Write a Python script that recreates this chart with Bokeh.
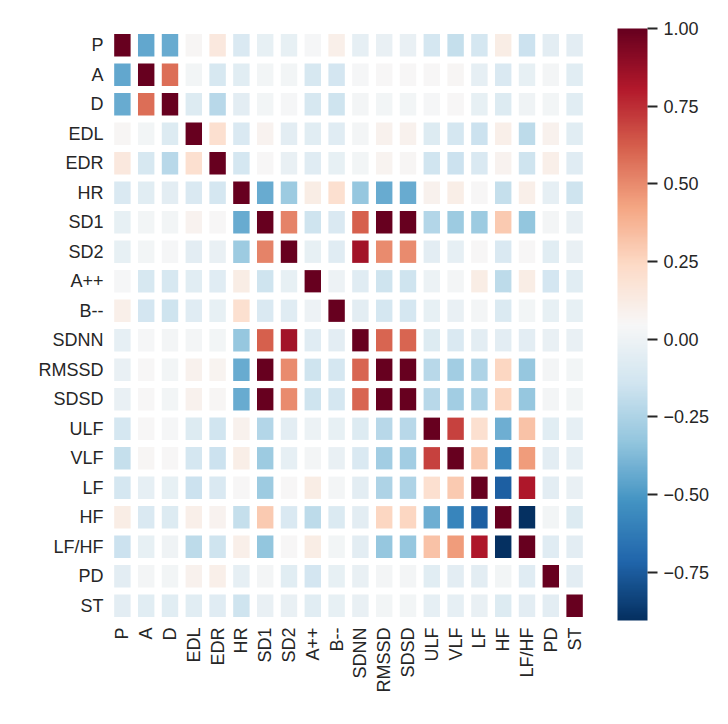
import numpy as np
from bokeh.plotting import figure
from bokeh.models import (ColumnDataSource, LinearColorMapper, ColorBar, FixedTicker,
                          CustomJSTickFormatter)
from bokeh.palettes import RdBu11
from bokeh.embed import file_html
from bokeh.resources import INLINE

# Variable names, in row/column order
variables = ["P", "A", "D", "EDL", "EDR", "HR", "SD1", "SD2", "A++", "B--",
             "SDNN", "RMSSD", "SDSD", "ULF", "VLF", "LF", "HF", "LF/HF", "PD", "ST"]

# Correlation matrix rows
row_P     = [1.00, -0.45, -0.43, 0.06, 0.15, -0.10, -0.03, -0.03, 0.04, 0.10, -0.04, -0.02, -0.02, -0.12, -0.18, -0.12, 0.12, -0.16, -0.05, -0.05]
row_A     = [-0.45, 1.00, 0.58, 0.02, -0.11, -0.06, 0.02, 0.02, -0.11, -0.13, 0.04, 0.05, 0.05, 0.05, 0.06, -0.04, -0.10, -0.03, 0.03, -0.06]
row_D     = [-0.43, 0.58, 1.00, -0.08, -0.22, -0.05, 0.02, 0.04, -0.11, -0.15, 0.03, 0.02, 0.02, 0.04, 0.05, -0.03, -0.08, 0.01, 0.02, -0.06]
row_EDL   = [0.06, 0.02, -0.08, 1.00, 0.20, -0.10, 0.08, -0.05, -0.06, -0.07, 0.03, 0.09, 0.09, -0.08, -0.12, -0.16, 0.10, -0.20, 0.09, -0.06]
row_EDR   = [0.15, -0.11, -0.22, 0.20, 1.00, -0.12, 0.05, -0.02, -0.07, -0.03, 0.02, 0.07, 0.06, -0.14, -0.16, -0.10, 0.08, -0.15, 0.10, -0.07]
row_HR    = [-0.10, -0.06, -0.05, -0.10, -0.12, 1.00, -0.43, -0.30, 0.12, 0.20, -0.32, -0.43, -0.43, 0.09, 0.11, 0.05, -0.18, 0.10, -0.04, -0.15]
row_SD1   = [-0.03, 0.02, 0.02, 0.08, 0.05, -0.43, 1.00, 0.52, -0.15, -0.10, 0.62, 1.00, 1.00, -0.23, -0.30, -0.30, 0.30, -0.33, 0.03, -0.02]
row_SD2   = [-0.03, 0.02, 0.04, -0.05, -0.02, -0.30, 0.52, 1.00, -0.03, -0.07, 0.85, 0.50, 0.50, -0.05, -0.04, 0.05, -0.10, 0.05, -0.06, -0.02]
row_App   = [0.04, -0.11, -0.11, -0.06, -0.07, 0.12, -0.15, -0.03, 1.00, 0.00, -0.07, -0.15, -0.15, -0.01, 0.03, 0.12, -0.20, 0.12, -0.13, -0.06]
row_Bmm   = [0.10, -0.13, -0.15, -0.07, -0.03, 0.20, -0.10, -0.07, 0.00, 1.00, -0.05, -0.12, -0.12, -0.03, -0.02, 0.03, -0.09, 0.02, -0.03, -0.03]
row_SDNN  = [-0.04, 0.04, 0.03, 0.03, 0.02, -0.32, 0.62, 0.85, -0.07, -0.05, 1.00, 0.60, 0.60, -0.08, -0.10, -0.05, -0.05, -0.05, -0.02, -0.02]
row_RMSSD = [-0.02, 0.05, 0.02, 0.09, 0.07, -0.43, 1.00, 0.50, -0.15, -0.12, 0.60, 1.00, 1.00, -0.22, -0.28, -0.25, 0.25, -0.32, 0.03, 0.02]
row_SDSD  = [-0.02, 0.05, 0.02, 0.09, 0.06, -0.43, 1.00, 0.50, -0.15, -0.12, 0.60, 1.00, 1.00, -0.22, -0.28, -0.25, 0.25, -0.32, 0.03, 0.02]
row_ULF   = [-0.12, 0.05, 0.04, -0.08, -0.14, 0.09, -0.23, -0.05, -0.01, -0.03, -0.08, -0.22, -0.22, 1.00, 0.70, 0.20, -0.42, 0.33, -0.06, -0.04]
row_VLF   = [-0.18, 0.06, 0.05, -0.12, -0.16, 0.11, -0.30, -0.04, 0.03, -0.02, -0.10, -0.28, -0.28, 0.70, 1.00, 0.30, -0.58, 0.45, -0.05, -0.04]
row_LF    = [-0.12, -0.04, -0.03, -0.16, -0.10, 0.05, -0.30, 0.05, 0.12, 0.03, -0.05, -0.25, -0.25, 0.20, 0.30, 1.00, -0.74, 0.82, -0.05, -0.02]
row_HF    = [0.12, -0.10, -0.08, 0.10, 0.08, -0.18, 0.30, -0.10, -0.20, -0.09, -0.05, 0.25, 0.25, -0.42, -0.58, -0.74, 1.00, -0.905, 0.02, -0.08]
row_LFHF  = [-0.16, -0.03, 0.01, -0.20, -0.15, 0.10, -0.33, 0.05, 0.12, 0.02, -0.05, -0.32, -0.32, 0.33, 0.45, 0.82, -0.905, 1.00, -0.07, -0.05]
row_PD    = [-0.05, 0.03, 0.02, 0.09, 0.10, -0.04, 0.03, -0.06, -0.13, -0.03, -0.02, 0.03, 0.03, -0.06, -0.05, -0.05, 0.02, -0.07, 1.00, -0.05]
row_ST    = [-0.05, -0.06, -0.06, -0.06, -0.07, -0.15, -0.02, -0.02, -0.06, -0.03, -0.02, 0.02, 0.02, -0.04, -0.04, -0.02, -0.08, -0.05, -0.05, 1.00]

colorbar_ticks = [-0.75, -0.50, -0.25, 0.00, 0.25, 0.50, 0.75, 1.00]

rows = [row_P, row_A, row_D, row_EDL, row_EDR, row_HR, row_SD1, row_SD2, row_App, row_Bmm,
        row_SDNN, row_RMSSD, row_SDSD, row_ULF, row_VLF, row_LF, row_HF, row_LFHF, row_PD, row_ST]
corr = np.array(rows)

# Long-form table for the rect glyphs
xs, ys, vals = [], [], []
for i, rname in enumerate(variables):
    for j, cname in enumerate(variables):
        xs.append(cname)
        ys.append(rname)
        vals.append(corr[i, j])
source = ColumnDataSource(dict(x=xs, y=ys, val=vals))

# Diverging palette, 256 steps: dark blue (low) -> white -> dark red (high)
anchors = list(RdBu11)
rgb = np.array([[int(h[k:k + 2], 16) for k in (1, 3, 5)] for h in anchors], dtype=float)
if rgb[0, 0] > rgb[0, 2]:          # make sure the low end is the blue end
    rgb = rgb[::-1]
pos = np.linspace(0, 1, len(anchors))
palette = []
for t in np.linspace(0, 1, 256):
    c = [int(round(np.interp(t, pos, rgb[:, k]))) for k in range(3)]
    palette.append("#%02x%02x%02x" % tuple(c))

mapper = LinearColorMapper(palette=palette, low=float(corr.min()), high=float(corr.max()))

FONT = "Liberation Sans"
TEXT = "#262626"
FS = "18px"

p = figure(width=728, height=724,
           x_range=variables, y_range=list(reversed(variables)),
           output_backend="svg", toolbar_location=None,
           min_border_left=110, min_border_top=30, min_border_bottom=104, min_border_right=142)

p.rect(x="x", y="y", width=0.69, height=0.755, source=source,
       fill_color={"field": "val", "transform": mapper}, line_color=None)

p.grid.visible = False
p.outline_line_color = None
p.background_fill_color = "white"
p.border_fill_color = "white"

for ax in (p.xaxis, p.yaxis):
    ax.axis_line_color = None
    ax.major_tick_line_color = None
    ax.minor_tick_line_color = None
    ax.major_tick_out = 0
    ax.major_tick_in = 0
    ax.major_label_text_font = FONT
    ax.major_label_text_font_size = FS
    ax.major_label_text_color = TEXT
p.xaxis.major_label_orientation = np.pi / 2
p.xaxis.major_label_standoff = 7
p.yaxis.major_label_standoff = 7

color_bar = ColorBar(color_mapper=mapper, width=30, height=592,
                     location=(31, 0), margin=0, padding=0,
                     ticker=FixedTicker(ticks=colorbar_ticks),
                     formatter=CustomJSTickFormatter(code="return tick.toFixed(2).replace('-', '\\u2212');"),
                     major_label_text_font=FONT, major_label_text_font_size=FS,
                     major_label_text_color=TEXT, label_standoff=6,
                     major_tick_in=0, major_tick_out=10,
                     major_tick_line_color=TEXT, major_tick_line_width=2,
                     minor_tick_line_color=None,
                     bar_line_color=None, border_line_color=None,
                     background_fill_alpha=0)
p.add_layout(color_bar, "right")

open("out.html", "w").write(file_html(p, INLINE))
